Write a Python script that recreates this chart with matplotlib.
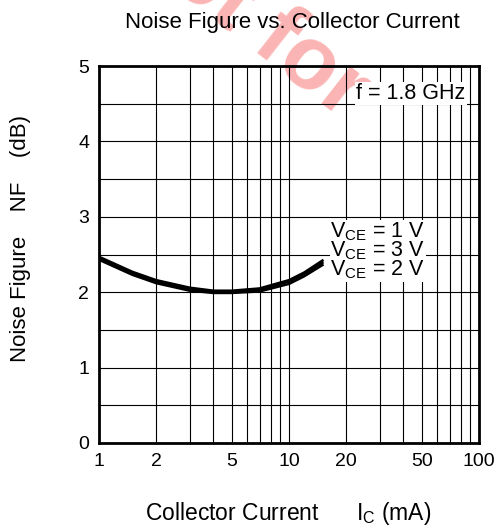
from matplotlib import pyplot as plt
from matplotlib.ticker import FixedLocator, NullFormatter, LogLocator
import numpy as np

plt.rcParams['font.family'] = ['Liberation Sans', 'DejaVu Sans']

# collector current (mA) and noise figure (dB)
ic = [1.0, 1.5, 2.0, 3.0, 4.0, 5.0, 7.0, 10.0, 12.0, 15.0]
nf_vce1 = [2.47, 2.27, 2.16, 2.06, 2.02, 2.02, 2.05, 2.16, 2.26, 2.42]
nf_vce3 = [2.45, 2.25, 2.14, 2.04, 2.01, 2.01, 2.03, 2.14, 2.24, 2.39]
nf_vce2 = [2.43, 2.23, 2.12, 2.02, 1.99, 1.99, 2.01, 2.11, 2.21, 2.36]

xticks = [1, 2, 5, 10, 20, 50, 100]
xticklabels = ['1', '2', '5', '10', '20', '50', '100']
yticks = [0, 1, 2, 3, 4, 5]

fig = plt.figure(figsize=(4.96, 5.29), dpi=100)
ax = fig.add_axes([0.1996, 0.1626, 0.7661, 0.7126])
ax.patch.set_alpha(0)

# red watermark behind everything
fig.text(0.49, 0.975, 'Not for', fontsize=64, color='#fbb4b4', fontweight='bold',
         rotation=-38, ha='center', va='center', zorder=-5)

ax.set_xscale('log')
ax.set_xlim(1, 100)
ax.set_ylim(0, 5)

ax.xaxis.set_major_locator(FixedLocator(xticks))
ax.set_xticklabels(xticklabels)
ax.xaxis.set_minor_locator(LogLocator(base=10, subs=np.arange(2, 10)))
ax.xaxis.set_minor_formatter(NullFormatter())
ax.set_yticks(yticks)
ax.set_yticks(np.arange(0, 5.01, 0.5), minor=True)

ax.grid(True, which='both', color='black', linewidth=0.8)
ax.tick_params(which='both', length=0, labelsize=14, pad=7)
for s in ax.spines.values():
    s.set_linewidth(2)

for nf in (nf_vce1, nf_vce3, nf_vce2):
    ax.plot(ic, nf, color='black', linewidth=1.8, zorder=3)

ax.text(0.965, 0.955, 'f = 1.8 GHz', transform=ax.transAxes, ha='right', va='top',
        fontsize=15.5, bbox=dict(facecolor='white', edgecolor='none', pad=1), zorder=4)
ax.text(16.5, 2.55, 'V$_{\\mathregular{CE}}$ = 1 V\nV$_{\\mathregular{CE}}$ = 3 V\nV$_{\\mathregular{CE}}$ = 2 V',
        ha='left', va='center', fontsize=15.5, linespacing=0.78,
        bbox=dict(facecolor='white', edgecolor='none', pad=0.5), zorder=4)

fig.text(0.589, 0.958, 'Noise Figure vs. Collector Current', ha='center', va='center',
         fontsize=16)
fig.text(0.58, 0.03, 'Collector Current      I$_{\\mathregular{C}}$ (mA)', ha='center',
         va='center', fontsize=16.5)
fig.text(0.042, 0.55, 'Noise Figure    NF    (dB)', ha='center', va='center',
         rotation=90, fontsize=16)

fig.savefig('out.png', dpi=100)
